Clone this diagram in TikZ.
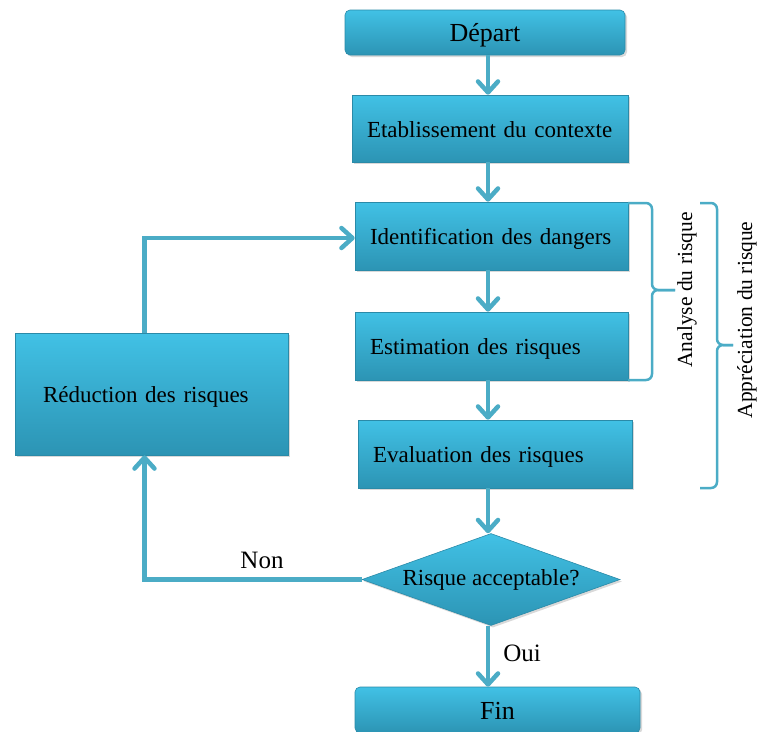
\documentclass[tikz,border=0pt]{standalone}
\usepackage{fontspec}
\setmainfont{Liberation Serif}
\definecolor{aqua}{HTML}{4BACC6}
\definecolor{aquahaut}{HTML}{41C1E5}
\definecolor{aquabas}{HTML}{2C94B4}
\definecolor{aquabord}{HTML}{2A8AA8}
\usetikzlibrary{calc, positioning, shapes.geometric, arrows.meta, shadows}
\tikzset{
  bloc/.style={draw=aquabord, line width=0.6pt, top color=aquahaut, bottom color=aquabas,
    drop shadow={opacity=0.3, shadow xshift=2pt, shadow yshift=-2pt}, text=black},
  etape/.style={bloc, minimum height=68pt, inner xsep=15pt, inner ysep=0pt, align=left,
    text height=20pt, text depth=3pt, font=\fontsize{23}{27}\selectfont},
  terminal/.style={bloc, rounded corners=5pt, minimum height=45pt, inner sep=0pt,
    text height=21pt, text depth=3pt, font=\fontsize{26}{30}\selectfont},
  decision/.style={bloc, diamond, aspect=2.8, minimum width=258pt, minimum height=92pt,
    inner sep=0pt, font=\fontsize{23}{27}\selectfont},
  fleche/.style={draw=aqua, line width=4.5pt, -{Straight Barb[round, length=11pt, width=20pt]}},
  accolade/.style={draw=aqua, line width=2.5pt, rounded corners=6pt},
  reponse/.style={font=\fontsize{25}{29}\selectfont},
  titre/.style={rotate=90, font=\fontsize{21.5}{25}\selectfont}
}
\begin{document}
\begin{tikzpicture}[x=1pt, y=-1pt]
  \useasboundingbox (0,0) rectangle (760,731);
  % etapes
  \node[terminal, minimum width=280pt] (depart) at (485,32.5) {Départ};
  \node[etape, text width=246pt, minimum height=67pt] (contexte) at (490,128.5) {Etablissement du contexte};
  \node[etape, text width=243pt] (identif) at (491.5,236) {Identification des dangers};
  \node[etape, text width=243pt] (estim) at (491.5,346) {Estimation des risques};
  \node[etape, text width=244pt] (evalu) at (495,454) {Evaluation des risques};
  \node[decision] (risque) at (491,579.5) {Risque acceptable?};
  \node[terminal, minimum width=285pt, minimum height=46pt] (fin) at (497.5,710) {Fin};
  \node[etape, text width=217pt, inner xsep=28pt, minimum height=122pt] (reduc) at (151.5,394) {Réduction des risques};
  \coordinate (axe) at (488,0);
  \coordinate (boucle) at ([xshift=-7pt]reduc.south);
  \coordinate (retour) at ([xshift=-7pt]reduc.north);
  % fleches
  \foreach \a/\b in {depart/contexte, contexte/identif, identif/estim, estim/evalu, evalu/risque, risque/fin}
    \draw[fleche] (axe |- \a.south) -- (axe |- \b.north);
  \draw[fleche] (risque.west) -| (boucle);
  \draw[fleche] (retour) |- ([yshift=-2pt]identif.west);
  \node[reponse] (non) at (262,560) {Non};
  \node[reponse] (oui) at (522,653) {Oui};
  % accolades
  \draw[accolade] (628,203) -- (652,203) -- (652,290) -- (675,290);
  \draw[accolade] (628,380) -- (652,380) -- (652,290) -- (675,290);
  \node[titre] (analyse) at (687,290) {Analyse du risque};
  \draw[accolade] (700,203) -- (717,203) -- (717,345) -- (733,345);
  \draw[accolade] (700,488) -- (717,488) -- (717,345) -- (733,345);
  \node[titre] (apprec) at (747,320) {Appréciation du risque};
\end{tikzpicture}
\end{document}
